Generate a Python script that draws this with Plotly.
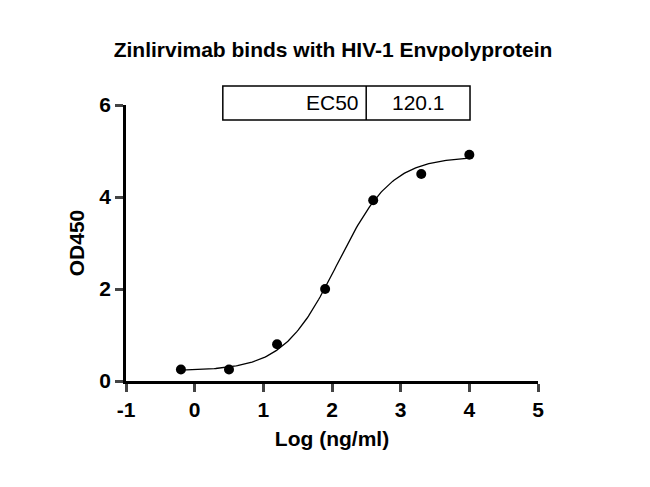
import numpy as np
import plotly.graph_objects as go

# measured points
log_conc = [-0.2, 0.5, 1.2, 1.9, 2.6, 3.3, 4.0]
od450 = [0.25, 0.25, 0.8, 2.0, 3.93, 4.5, 4.92]

# 4PL fit parameters
bottom, top, ec50, hill = 0.22, 4.88, 120.1, 1.1
log_ec50 = np.log10(ec50)
xfit = np.linspace(-0.2, 4.0, 200)
yfit = bottom + (top - bottom) / (1 + 10 ** ((log_ec50 - xfit) * hill))

fig = go.Figure()
fig.add_trace(go.Scatter(x=xfit, y=yfit, mode="lines",
                         line=dict(color="black", width=1.3), showlegend=False))
fig.add_trace(go.Scatter(x=log_conc, y=od450, mode="markers",
                         marker=dict(color="black", size=10), showlegend=False))

fam = "Liberation Sans, Arial"
fig.update_layout(
    width=650, height=487, plot_bgcolor="white", paper_bgcolor="white",
    margin=dict(l=118, r=120, t=97, b=114, autoexpand=False),
    title=dict(text="<b>Zinlirvimab binds with HIV-1 Envpolyprotein</b>",
               x=0.5, xanchor="center", y=0.915, yanchor="middle",
               font=dict(family=fam, size=21, color="black")),
    font=dict(family=fam, size=21, color="black"),
)
fig.update_xaxes(range=[-1, 5], tickvals=[-1, 0, 1, 2, 3, 4, 5],
                 ticktext=["<b>%d</b>" % v for v in [-1, 0, 1, 2, 3, 4, 5]],
                 tickfont=dict(family=fam, size=21, color="black"),
                 showline=True, linecolor="black", linewidth=2.5, ticks="outside",
                 ticklen=8, tickwidth=2.5, showgrid=False, zeroline=False,
                 automargin=False,
                 title=dict(text="<b>Log (ng/ml)</b>", standoff=12,
                            font=dict(family=fam, size=21)))
fig.update_yaxes(range=[0, 6], tickvals=[0, 2, 4, 6],
                 ticktext=["<b>%d</b>" % v for v in [0, 2, 4, 6]],
                 tickfont=dict(family=fam, size=21, color="black"),
                 showline=True, linecolor="black", linewidth=2.5, ticks="outside",
                 ticklen=8, tickwidth=2.5, showgrid=False, zeroline=False,
                 automargin=False,
                 title=dict(text="<b>OD450</b>", standoff=10,
                            font=dict(family=fam, size=21)))

# EC50 table box
x0, xm, x1, y0, y1 = 0.235, 0.583, 0.835, 0.946, 1.069
fig.add_shape(type="rect", xref="paper", yref="paper", x0=x0, x1=x1, y0=y0, y1=y1,
              line=dict(color="black", width=1.5))
fig.add_shape(type="line", xref="paper", yref="paper", x0=xm, x1=xm, y0=y0, y1=y1,
              line=dict(color="black", width=1.5))
fig.add_annotation(xref="paper", yref="paper", x=xm - 0.012, y=(y0 + y1) / 2,
                   text="EC50", showarrow=False, xanchor="right", yanchor="middle",
                   font=dict(family=fam, size=21))
fig.add_annotation(xref="paper", yref="paper", x=(xm + x1) / 2, y=(y0 + y1) / 2,
                   text=f"{ec50}", showarrow=False, xanchor="center", yanchor="middle",
                   font=dict(family=fam, size=21))

fig.write_html("out.html")
